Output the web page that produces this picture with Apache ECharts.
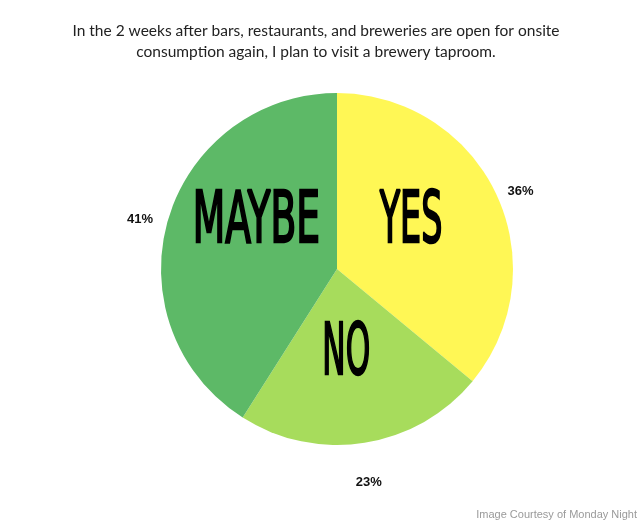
<!DOCTYPE html>
<html>
<head>
<meta charset="utf-8">
<script src="https://cdn.jsdelivr.net/npm/echarts@6/dist/echarts.min.js"></script>
<style>
  html, body { margin: 0; padding: 0; background: #fff; }
  #main { width: 640px; height: 520px; }
</style>
</head>
<body>
<div id="main"></div>
<script>
// answers, clockwise from the top
var answers = ['YES', 'NO', 'MAYBE'];
var shares = [36, 23, 41];
var sliceColors = ['#fff755', '#a7dc5c', '#5db967'];

// where the big words sit (centre of the letters) and how wide they are
var wordSpots = [[410, 216, 64], [347, 348, 46], [257, 216, 124]];
// outer percentage label tweaks [length, length2]
var pctLines = [[7, 0], [40, -20], [0, 10]];

var chart = echarts.init(document.getElementById('main'));

var wordFont = '72px "DejaVu Sans Condensed", "DejaVu Sans"';
var wordStroke = 2.5;
var ctx = document.createElement('canvas').getContext('2d');
ctx.font = wordFont;
ctx.textBaseline = 'middle';

var pieData = answers.map(function (name, i) {
	return {
		name: name,
		value: shares[i],
		itemStyle: {color: sliceColors[i]},
		labelLine: {length: pctLines[i][0], length2: pctLines[i][1]}
	};
});

var words = answers.map(function (name, i) {
	var m = ctx.measureText(name);
	var w = m.actualBoundingBoxLeft + m.actualBoundingBoxRight;
	var dy = (m.actualBoundingBoxDescent - m.actualBoundingBoxAscent) / 2;
	var dx = (m.actualBoundingBoxRight - m.actualBoundingBoxLeft) / 2 - m.width / 2;
	var sx = (wordSpots[i][2] - wordStroke) / w;
	return {
		type: 'text',
		x: wordSpots[i][0] - dx * sx,
		y: wordSpots[i][1] - dy,
		scaleX: sx,
		z: 10,
		style: {
			text: name,
			font: wordFont,
			fill: '#000',
			stroke: '#000',
			lineWidth: wordStroke,
			textAlign: 'center',
			textVerticalAlign: 'middle'
		}
	};
});

words.push({
	type: 'text',
	right: 3,
	bottom: 0,
	style: {
		text: 'Image Courtesy of Monday Night',
		font: '11px "Liberation Sans"',
		fill: '#9a9a9a'
	}
});

var option = {
	backgroundColor: '#fff',
	animation: false,
	title: {
		text: 'In the 2 weeks after bars, restaurants, and breweries are open for onsite\nconsumption again, I plan to visit a brewery taproom.',
		left: 311,
		top: 15,
		textAlign: 'center',
		textStyle: {
			fontFamily: 'Lato',
			fontWeight: 'normal',
			fontSize: 15.5,
			lineHeight: 21,
			color: '#222'
		}
	},
	graphic: words,
	series: [
		{
			type: 'pie',
			center: [337, 269],
			radius: 176,
			startAngle: 90,
			clockwise: true,
			avoidLabelOverlap: false,
			label: {
				show: true,
				position: 'outside',
				formatter: function (p) { return p.value + '%'; },
				fontFamily: 'Liberation Sans',
				fontWeight: 'bold',
				fontSize: 13,
				color: '#111'
			},
			labelLine: {show: false},
			emphasis: {disabled: true},
			data: pieData
		}
	]
};
chart.setOption(option);
</script>
</body>
</html>
